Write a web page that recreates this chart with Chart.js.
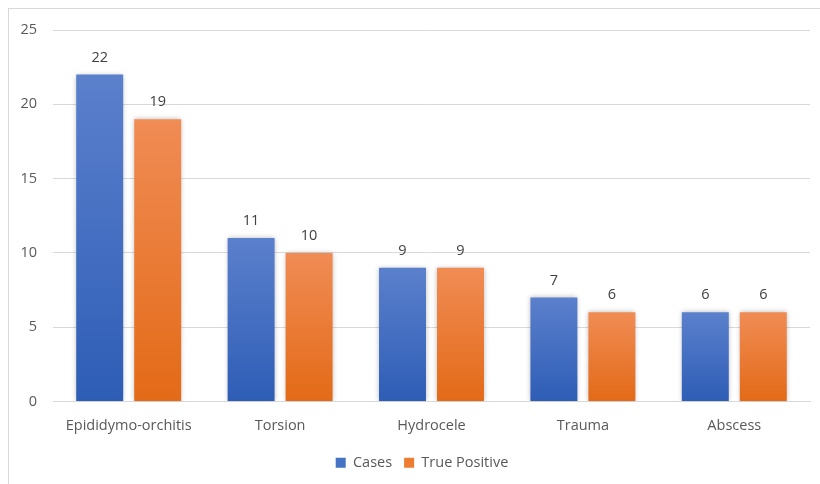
<!DOCTYPE html>
<html>
<head>
<meta charset="utf-8">
<script src="https://cdn.jsdelivr.net/npm/chart.js@4.4.1/dist/chart.umd.min.js"></script>
<style>
  html, body { margin: 0; padding: 0; background: #fff; }
  #wrap { position: relative; width: 820px; height: 484px; }
  #frame { position: absolute; left: 8px; top: 8px; width: 830px; height: 500px; border: 1px solid #d9d9d9; box-sizing: border-box; pointer-events: none; }
  canvas { position: absolute; left: 0; top: 0; }
</style>
</head>
<body>
<div id="wrap">
  <canvas id="c" width="820" height="484"></canvas>
  <div id="frame"></div>
</div>
<script>
const categories = ["Epididymo-orchitis", "Torsion", "Hydrocele", "Trauma", "Abscess"];
const casesValues = [22, 11, 9, 7, 6];
const truePositiveValues = [19, 10, 9, 6, 6];
const seriesNames = ["Cases", "True Positive"];
const yTicks = [0, 5, 10, 15, 20, 25];

const FONT = "'Open Sans', sans-serif";
const FS = 14.5;

function gradFill(top, bottom, solid) {
  return function (ctx) {
    const chart = ctx.chart;
    const y = chart.scales && chart.scales.y;
    if (!y || !chart.chartArea || ctx.raw === undefined) return solid;
    const yTop = y.getPixelForValue(ctx.raw);
    const yBot = y.getPixelForValue(0);
    if (!isFinite(yTop) || !isFinite(yBot) || yTop === yBot) return solid;
    const g = chart.ctx.createLinearGradient(0, yTop, 0, yBot);
    g.addColorStop(0, top);
    g.addColorStop(1, bottom);
    return g;
  };
}

const valueLabels = {
  id: 'valueLabels',
  afterDatasetsDraw(chart) {
    const ctx = chart.ctx;
    ctx.save();
    ctx.font = FS + "px " + FONT;
    ctx.fillStyle = '#404040';
    ctx.textAlign = 'center';
    ctx.textBaseline = 'middle';
    chart.data.datasets.forEach((ds, i) => {
      const meta = chart.getDatasetMeta(i);
      meta.data.forEach((bar, j) => {
        ctx.fillText(String(ds.data[j]), bar.x, bar.y - 17);
      });
    });
    ctx.restore();
  }
};

const barShadow = {
  id: 'barShadow',
  beforeDatasetsDraw(chart) {
    const ctx = chart.ctx;
    ctx.save();
    ctx.shadowColor = 'rgba(0,0,0,0.28)';
    ctx.shadowBlur = 5;
    ctx.shadowOffsetX = 0;
    ctx.shadowOffsetY = 0;
  },
  afterDatasetsDraw(chart) {
    chart.ctx.restore();
  }
};

const legendShift = {
  id: 'legendShift',
  afterLayout(chart) {
    if (chart.legend) {
      chart.legend.left += 17;
      chart.legend.right += 17;
    }
  }
};

new Chart(document.getElementById('c'), {
  type: 'bar',
  data: {
    labels: categories,
    datasets: [
      {
        label: seriesNames[0],
        data: casesValues,
        backgroundColor: gradFill('#5b80cc', '#2e5db6', '#4472c4'),
        borderWidth: 0,
        categoryPercentage: 0.766,
        barPercentage: 0.81
      },
      {
        label: seriesNames[1],
        data: truePositiveValues,
        backgroundColor: gradFill('#f08c55', '#e36a17', '#ed7d31'),
        borderWidth: 0,
        categoryPercentage: 0.766,
        barPercentage: 0.81
      }
    ]
  },
  options: {
    responsive: false,
    animation: false,
    devicePixelRatio: 1,
    layout: { padding: { left: 0, right: 10, top: 30, bottom: 4 } },
    scales: {
      x: {
        grid: { display: false, drawTicks: false },
        border: { display: true, color: '#d9d9d9', width: 1 },
        ticks: { color: '#595959', font: { family: FONT, size: FS }, padding: 16, maxRotation: 0 },
        afterFit(s) { s.height = 42; }
      },
      y: {
        min: 0,
        max: 25,
        afterBuildTicks(s) { s.ticks = yTicks.map(v => ({ value: v })); },
        grid: { color: '#d9d9d9', drawTicks: false },
        border: { display: false },
        ticks: { color: '#595959', font: { family: FONT, size: FS }, padding: 16 },
        afterFit(s) { s.width = 53; }
      }
    },
    plugins: {
      legend: {
        position: 'bottom',
        labels: {
          color: '#595959',
          font: { family: FONT, size: FS },
          boxWidth: 10,
          boxHeight: 10,
          padding: 12,
          generateLabels(chart) {
            return chart.data.datasets.map((ds, i) => ({
              text: ds.label,
              fillStyle: i === 0 ? '#4472c4' : '#ed7d31',
              strokeStyle: i === 0 ? '#4472c4' : '#ed7d31',
              lineWidth: 0,
              datasetIndex: i,
              hidden: false,
              fontColor: '#595959'
            }));
          }
        }
      },
      tooltip: { enabled: false }
    }
  },
  plugins: [legendShift, barShadow, valueLabels]
});
</script>
</body>
</html>
